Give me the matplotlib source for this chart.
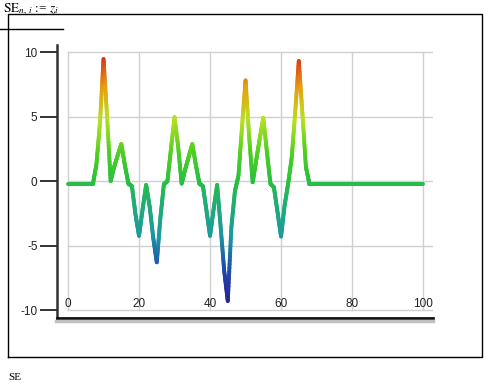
import numpy as np
import matplotlib.pyplot as plt
from matplotlib.collections import LineCollection
from matplotlib.colors import LinearSegmentedColormap, Normalize
from matplotlib.lines import Line2D

# data: z_i for i = 0..100
idx = np.arange(101)
z = ([-0.25] * 8 +
     [1.3, 4.5, 9.45, 5.0, 0.0, 1.1, 2.0, 2.87, 1.25, -0.2,
      -0.4, -2.6, -4.25, -2.2, -0.3, -2.0, -4.4, -6.3, -2.9, -0.25,
      0.0, 2.5, 4.95, 2.7, -0.2, 0.9, 1.9, 2.87, 1.25, -0.2,
      -0.4, -2.3, -4.25, -2.2, -0.3, -3.6, -7.0, -9.3, -3.6, -0.8,
      0.4, 4.2, 7.8, 3.5, -0.1, 1.6, 3.3, 4.9, 2.3, -0.2,
      -0.5, -2.4, -4.3, -1.9, -0.2, 1.8, 5.4, 9.3, 5.3, 1.1] +
     [-0.25] * 33)
z = np.array(z)

xticks = [0, 20, 40, 60, 80, 100]
yticks = [-10, -5, 0, 5, 10]

cmap = LinearSegmentedColormap.from_list('mcad', [
    (0.00, '#2a1f8f'), (0.15, '#1f4fb0'), (0.28, '#1a9aa0'),
    (0.42, '#20b070'), (0.50, '#28c040'), (0.62, '#50d020'),
    (0.75, '#b8e020'), (0.88, '#e8a010'), (1.00, '#d83018')])
norm = Normalize(-9.5, 9.5)


def gradient_line(ax, x, y, n=20, lw=2.8):
    # split every segment into small pieces so the colour follows the value
    segs, vals = [], []
    for k in range(len(x) - 1):
        t = np.linspace(0, 1, n + 1)
        xs = x[k] + (x[k + 1] - x[k]) * t
        ys = y[k] + (y[k + 1] - y[k]) * t
        for j in range(n):
            segs.append([(xs[j], ys[j]), (xs[j + 1], ys[j + 1])])
            vals.append(0.5 * (ys[j] + ys[j + 1]))
    lc = LineCollection(segs, colors=cmap(norm(np.array(vals))),
                        linewidths=lw, capstyle='round', zorder=3)
    ax.add_collection(lc)


fig = plt.figure(figsize=(4.89, 3.85), dpi=100)
ax = fig.add_axes([0.1166, 0.174, 0.7689, 0.709])
ax.set_xlim(-3.1, 102.8)
ax.set_ylim(-10.62, 10.54)

# grid box
for xv in xticks:
    ax.plot([xv, xv], [-10, 10], color='#d0d0d0', lw=1, zorder=1)
for yv in yticks:
    ax.plot([0, 102.8], [yv, yv], color='#d0d0d0', lw=1, zorder=1)

gradient_line(ax, idx, z)

for s in ['top', 'right']:
    ax.spines[s].set_visible(False)
ax.spines['left'].set_linewidth(1.8)
ax.spines['left'].set_color('#333333')
ax.spines['bottom'].set_linewidth(2)
ax.spines['bottom'].set_color('#111111')

ax.set_yticks(yticks)
ax.set_yticklabels([str(v) for v in yticks], fontsize=8.5, family='Liberation Sans')
ax.tick_params(axis='y', length=12, width=1.3, pad=2, colors='#222222')
ax.set_xticks([])
for xv in xticks:
    ax.text(xv, -10.0, str(xv), ha='center', va='bottom', fontsize=8.5,
            family='Liberation Sans', color='#222222')

# shadow under the bottom axis
fig.add_artist(Line2D([56 / 489, 433 / 489], [1 - 321 / 385, 1 - 321 / 385],
                      color='#c0c0c0', lw=2.5))

# Mathcad region frame and labels
W, H = 489, 385
frame = [(8, 357), (8, 14), (482, 14), (482, 357), (8, 357)]
fig.add_artist(Line2D([p[0] / W for p in frame], [1 - p[1] / H for p in frame],
                      color='black', lw=1))
fig.add_artist(Line2D([0, 63 / W], [1 - 29 / H, 1 - 29 / H], color='black', lw=1))
fig.text(3 / W, 1 - 1 / H, r'$\mathrm{SE}_{n,\,i}$ := $z_i$', fontsize=9.5, va='top',
         family='Liberation Serif', math_fontfamily='stix')
fig.text(8 / W, 1 - 378 / H, 'SE', fontsize=8, va='center', family='Liberation Serif')

fig.savefig('out.png', dpi=100)
